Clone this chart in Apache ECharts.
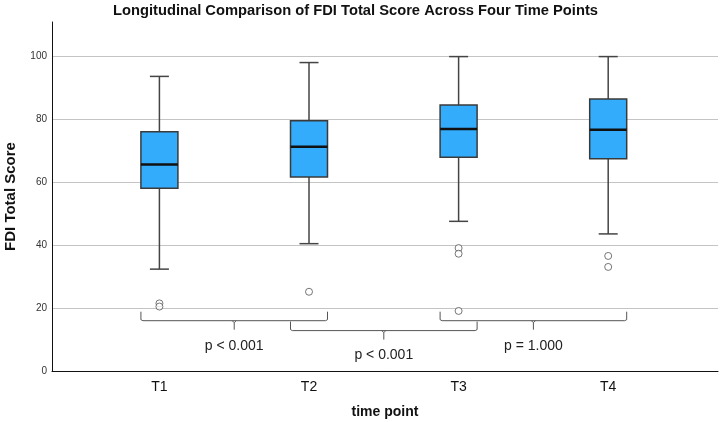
<!DOCTYPE html>
<html>
<head>
<meta charset="utf-8">
<script src="https://cdn.jsdelivr.net/npm/echarts@6/dist/echarts.min.js"></script>
<style>
  html, body { margin: 0; padding: 0; background: #fff; }
  #main { width: 720px; height: 422px; }
</style>
</head>
<body>
<div id="main"></div>
<script>
var categories = ['T1', 'T2', 'T3', 'T4'];
var catPos = [1, 2, 3, 4];
var whiskerLow = [32.4, 40.5, 47.6, 43.6];
var q1 = [58.1, 61.7, 68.0, 67.5];
var median = [65.7, 71.3, 77.0, 76.7];
var q3 = [76.1, 79.6, 84.6, 86.5];
var whiskerHigh = [93.7, 98.1, 100, 100];
var outlierCat = [1, 1, 2, 3, 3, 3, 4, 4];
var outlierVal = [21.5, 20.5, 25.2, 39.1, 37.3, 19.1, 36.6, 33.1];
var yTicks = [0, 20, 40, 60, 80, 100];
var bracketFrom = [1, 2, 3];
var bracketTo = [2, 3, 4];
var bracketLevel = [16.0, 12.85, 16.0];
var pLabels = ['p < 0.001', 'p < 0.001', 'p = 1.000'];

var TITLE = 'Longitudinal Comparison of FDI Total Score Across Four Time Points';
var TITLE_FONT = 'bold 14px "Liberation Sans", Arial, sans-serif';
var BOX_W = 37;
var CAP_W = 19;

var boxData = catPos.map(function (c, i) {
  return [c, whiskerLow[i], q1[i], median[i], q3[i], whiskerHigh[i]];
});
var outlierData = outlierCat.map(function (c, i) { return [c, outlierVal[i]]; });
var bracketData = bracketFrom.map(function (f, i) { return [f, bracketTo[i], bracketLevel[i]]; });

// fit the title to the width it has in the original
var ctx = document.createElement('canvas').getContext('2d');
ctx.font = TITLE_FONT;
var titleScale = 485 / ctx.measureText(TITLE).width;

function renderBox(params, api) {
  var x = api.value(0);
  var lo = api.coord([x, api.value(1)]);
  var b1 = api.coord([x, api.value(2)]);
  var md = api.coord([x, api.value(3)]);
  var b3 = api.coord([x, api.value(4)]);
  var hi = api.coord([x, api.value(5)]);
  var cx = lo[0];
  var wl = { stroke: '#444', lineWidth: 1.5 };
  return {
    type: 'group',
    children: [
      { type: 'line', shape: { x1: cx, y1: hi[1], x2: cx, y2: b3[1] }, style: wl },
      { type: 'line', shape: { x1: cx, y1: b1[1], x2: cx, y2: lo[1] }, style: wl },
      { type: 'line', shape: { x1: cx - CAP_W / 2, y1: hi[1], x2: cx + CAP_W / 2, y2: hi[1] }, style: wl },
      { type: 'line', shape: { x1: cx - CAP_W / 2, y1: lo[1], x2: cx + CAP_W / 2, y2: lo[1] }, style: wl },
      {
        type: 'rect',
        shape: { x: cx - BOX_W / 2, y: b3[1], width: BOX_W, height: b1[1] - b3[1] },
        style: { fill: '#33adfb', stroke: '#3a3a3a', lineWidth: 1.5 }
      },
      { type: 'line', shape: { x1: cx - BOX_W / 2, y1: md[1], x2: cx + BOX_W / 2, y2: md[1] }, style: { stroke: '#111', lineWidth: 2.5 } }
    ]
  };
}

function renderBracket(params, api) {
  var a = api.coord([api.value(0), api.value(2)]);
  var b = api.coord([api.value(1), api.value(2)]);
  var x0 = a[0] - BOX_W / 2;
  var x1 = b[0] + BOX_W / 2;
  var y = a[1];
  var xm = (x0 + x1) / 2;
  var st = { stroke: '#555', lineWidth: 1, fill: null };
  return {
    type: 'group',
    children: [
      { type: 'polyline', shape: { points: [[x0, y - 9], [x0, y - 1], [x0 + 2, y], [x1 - 2, y], [x1, y - 1], [x1, y - 9]] }, style: st },
      { type: 'polyline', shape: { points: [[xm - 2, y], [xm, y + 2], [xm, y + 9]] }, style: st },
      { type: 'polyline', shape: { points: [[xm + 2, y], [xm, y + 2]] }, style: st },
      {
        type: 'text',
        x: xm, y: y + 25,
        style: {
          text: pLabels[params.dataIndex],
          fill: '#222',
          font: '14px "Liberation Sans", Arial, sans-serif',
          align: 'center',
          verticalAlign: 'middle'
        }
      }
    ]
  };
}

var chart = echarts.init(document.getElementById('main'), null, { renderer: 'canvas' });

var option = {
  animation: false,
  backgroundColor: '#fff',
  graphic: [
    {
      type: 'text',
      x: 113,
      y: 11,
      scaleX: titleScale,
      style: {
        text: TITLE,
        font: TITLE_FONT,
        fill: '#111',
        verticalAlign: 'middle'
      }
    }
  ],
  grid: { left: 52, right: 2, top: 22, bottom: 51, outerBoundsMode: 'none', containLabel: false },
  xAxis: {
    type: 'value',
    min: 0.282,
    max: 4.734,
    name: 'time point',
    nameLocation: 'middle',
    nameGap: 34,
    nameTextStyle: { fontFamily: '"Liberation Sans", sans-serif', fontWeight: 'bold', fontSize: 14, color: '#111' },
    axisLine: { lineStyle: { color: '#111', width: 1 } },
    axisTick: { show: false },
    splitLine: { show: false },
    axisLabel: {
      customValues: catPos,
      formatter: function (v) { return categories[Math.round(v) - 1]; },
      fontFamily: '"Liberation Sans", sans-serif',
      fontSize: 14,
      color: '#111',
      margin: 9
    }
  },
  yAxis: {
    type: 'value',
    min: 0,
    max: 111,
    name: 'FDI Total Score',
    nameLocation: 'middle',
    nameGap: 34,
    nameTextStyle: { fontFamily: '"Liberation Sans", sans-serif', fontWeight: 'bold', fontSize: 15, color: '#111' },
    axisLine: { show: true, lineStyle: { color: '#111', width: 1 } },
    axisTick: { show: false, customValues: yTicks },
    axisLabel: { customValues: yTicks, fontSize: 10, color: '#333', margin: 5, fontFamily: '"Liberation Sans", sans-serif' },
    splitLine: { show: true, lineStyle: { color: '#c4c4c4', width: 1 } }
  },
  series: [
    {
      type: 'custom',
      name: 'box',
      renderItem: renderBox,
      data: boxData,
      encode: { x: 0, y: [1, 2, 3, 4, 5] },
      z: 3
    },
    {
      type: 'scatter',
      name: 'outliers',
      data: outlierData,
      symbol: 'circle',
      symbolSize: 7,
      itemStyle: { color: '#fff', borderColor: '#555', borderWidth: 1 },
      z: 4
    },
    {
      type: 'custom',
      name: 'brackets',
      renderItem: renderBracket,
      data: bracketData,
      encode: { x: [0, 1], y: 2 },
      clip: false,
      z: 5
    }
  ]
};

chart.setOption(option);
</script>
</body>
</html>
